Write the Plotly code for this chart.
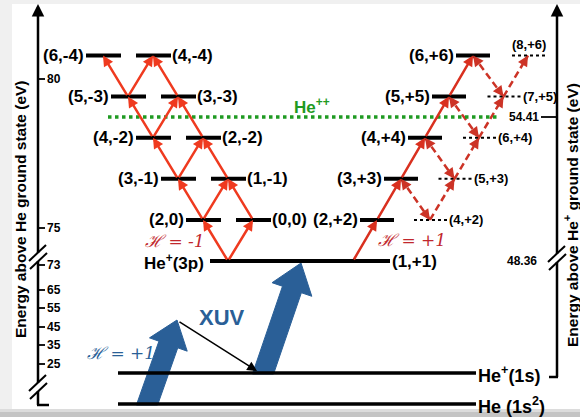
import math
import plotly.graph_objects as go

# ---------------- data (diagram content) ----------------
ladder_rows = [1, 2, 3, 4, 5]
left_outer_labels = ["(2,0)", "(3,-1)", "(4,-2)", "(5,-3)", "(6,-4)"]
left_inner_labels = ["(0,0)", "(1,-1)", "(2,-2)", "(3,-3)", "(4,-4)"]
right_solid_labels = ["(2,+2)", "(3,+3)", "(4,+4)", "(5,+5)", "(6,+6)"]
right_dotted_labels = ["(4,+2)", "(5,+3)", "(6,+4)", "(7,+5)", "(8,+6)"]
left_axis_ticks = ["80", "75", "73", "65", "55", "45", "35", "25"]
right_axis_ticks = ["54.41", "48.36"]
state_3p = "He<sup>+</sup>(3p)"
state_11 = "(1,+1)"
state_1s = "He<sup>+</sup>(1s)"
state_gs = "He (1s<sup>2</sup>)"
state_ion = "He<sup>++</sup>"
helicity_left = "ℋ = -1"
helicity_right = "ℋ = +1"
helicity_xuv = "ℋ = +1"
xuv_label = "XUV"
left_title = "Energy above He ground state (eV)"
right_title = "Energy above He<sup>+</sup> ground state (eV)"

# ---------------- layout geometry ----------------
W, H = 580, 417
ROW0_Y, ROW_DY = 261, 41.1
LX0, LSTEP = 228, 25
RX0, RSTEP = 353, 24
DX1, DSTEP = 430, 24.5
Y_1S, Y_GS = 373, 404
ION_Y = 117
AX_L, AX_R = 38, 557
left_tick_y = [79, 228, 265, 290, 308, 327, 345, 364]
right_tick_y = [ION_Y, ROW0_Y]

FONT = "Liberation Sans, Arial, sans-serif"
RED = "#ef3a1f"
RED_R = "#d9301f"
RED_D = "#cc3326"
DARKRED = "#c1272d"
BLUE = "#2a5f97"
GREEN = "#1f9a22"


def row_y(r):
    return ROW0_Y - ROW_DY * r


shapes, ann = [], []
fig = go.Figure()


def hline(x0, x1, y, w=4, dash=None, color="black"):
    shapes.append(dict(type="line", x0=x0, x1=x1, y0=y, y1=y, layer="above",
                       line=dict(color=color, width=w, dash=dash)))


def seg(x0, y0, x1, y1, w=2, color="black"):
    shapes.append(dict(type="line", x0=x0, x1=x1, y0=y0, y1=y1, layer="above",
                       line=dict(color=color, width=w)))


def label(x, y, s, size=17, color="black", xanchor="center", yanchor="middle",
          weight="bold", style="normal", angle=0, family=FONT):
    ann.append(dict(x=x, y=y, text=s, showarrow=False, xanchor=xanchor,
                    yanchor=yanchor, textangle=angle, borderpad=0,
                    font=dict(family=family, size=size, color=color,
                              weight=weight, style=style)))


def arrow(x0, y0, x1, y1, color, width=2.5, head=2, size=0.85):
    ann.append(dict(x=x1, y=y1, ax=x0, ay=y0, axref="x", ayref="y", text="",
                    showarrow=True, arrowhead=head, arrowsize=size,
                    arrowwidth=width, arrowcolor=color, standoff=0))


def dashed_arrow(x0, y0, x1, y1, color, both=False):
    fig.add_trace(go.Scatter(x=[x0, x1], y=[y0, y1], mode="lines",
                             line=dict(color=color, width=2.5, dash="7px,4px"),
                             hoverinfo="skip", showlegend=False))
    L = math.hypot(x1 - x0, y1 - y0)
    ux, uy = (x1 - x0) / L, (y1 - y0) / L
    arrow(x1 - ux * 9, y1 - uy * 9, x1, y1, color)
    if both:
        arrow(x0 + ux * 9, y0 + uy * 9, x0, y0, color)


def fat_arrow(tx, ty, hx, hy, shaft_hw, head_hw, head_len, color):
    L = math.hypot(hx - tx, hy - ty)
    ux, uy = (hx - tx) / L, (hy - ty) / L
    px, py = -uy, ux
    bx, by = hx - ux * head_len, hy - uy * head_len
    pts = []
    for sgn in (1, -1):
        cx, cy = tx + sgn * px * shaft_hw, ty + sgn * py * shaft_hw
        s = (ty - cy) / uy
        pts.append((cx + s * ux, cy + s * uy))
    poly = [pts[0],
            (bx + px * shaft_hw, by + py * shaft_hw),
            (bx + px * head_hw, by + py * head_hw),
            (hx, hy),
            (bx - px * head_hw, by - py * head_hw),
            (bx - px * shaft_hw, by - py * shaft_hw),
            pts[1], pts[0]]
    fig.add_trace(go.Scatter(x=[p[0] for p in poly], y=[p[1] for p in poly],
                             mode="lines", fill="toself", fillcolor=color,
                             line=dict(color=color, width=1), hoverinfo="skip",
                             showlegend=False))


def axis_break(cx, cy):
    shapes.append(dict(type="rect", x0=cx - 3, x1=cx + 3, y0=cy - 4, y1=cy + 4,
                       fillcolor="white", line=dict(width=0), layer="above"))
    seg(cx - 9, cy + 4, cx + 8, cy - 12, w=2)
    seg(cx - 8, cy + 12, cx + 9, cy - 4, w=2)


# ---------- frame ----------
shapes.append(dict(type="rect", x0=12, x1=W, y0=4, y1=409, fillcolor="white",
                   line=dict(width=0), layer="below"))
shapes.append(dict(type="rect", x0=0, x1=W, y0=409, y1=412, fillcolor="#dcdcdc",
                   line=dict(width=0), layer="below"))
shapes.append(dict(type="rect", x0=0, x1=W, y0=412, y1=H, fillcolor="#c4c4c4",
                   line=dict(width=0), layer="below"))

# ---------- XUV fat arrows ----------
fat_arrow(147, Y_GS + 1, 177, 320, 10, 20, 26, BLUE)
fat_arrow(263, Y_1S + 1, 301, ROW0_Y + 2, 10, 21, 28, BLUE)
arrow(178, 321, 257, 371, "black", width=1.5, head=2, size=1.3)
label(222, 317, xuv_label, size=22, color=BLUE)
label(121, 353, helicity_xuv, size=17, color=BLUE, style="italic",
      weight="normal", family="DejaVu Serif, serif")

# ---------- base levels ----------
hline(118, 476, Y_1S, w=3.5)
hline(118, 476, Y_GS, w=3.5)
label(477, Y_1S + 1, state_1s, size=18, xanchor="left")
label(477, Y_GS + 1, state_gs, size=18, xanchor="left")
hline(210, 390, ROW0_Y, w=4)
label(205, ROW0_Y + 1, state_3p, size=17, xanchor="right")
label(391, ROW0_Y, state_11, size=17, xanchor="left")

# ---------- ionisation threshold ----------
hline(108, 498, ION_Y, w=3.5, dash="dot", color=GREEN)
label(312, 106, state_ion, size=17, color=GREEN)

# ---------- left ladder (H = -1) ----------
prev = [LX0]
prev_y = row_y(0)
for i, r in enumerate(ladder_rows):
    y = row_y(r)
    xo = LX0 - LSTEP * r
    xi = xo + 2 * LSTEP
    hline(xo - 17, xo + 18, y)
    hline(xi - 17, xi + 18, y)
    label(xo - 18, y, left_outer_labels[i], xanchor="right")
    label(xi + 18, y, left_inner_labels[i], xanchor="left")
    cur = [xo, xi]
    for v in prev:
        for t in (v - LSTEP, v + LSTEP):
            if any(abs(t - c) < 1 for c in cur):
                arrow(v, prev_y, t, y, RED)
    prev, prev_y = cur, y
label(175, 241, helicity_left, size=17, color=DARKRED, style="italic",
      weight="normal", family="DejaVu Serif, serif")

# ---------- right ladder (H = +1) ----------
S = {r: RX0 + RSTEP * r for r in [0] + ladder_rows}
D = {r: DX1 + DSTEP * (r - 1) for r in ladder_rows}
for i, r in enumerate(ladder_rows):
    y = row_y(r)
    hline(S[r] - 17, S[r] + 17, y)
    label(S[r] - 18, y, right_solid_labels[i], xanchor="right")
    hline(D[r] - 16, D[r] + 17, y, w=2, dash="dot")
    if i < len(ladder_rows) - 1:
        label(D[r] + 18, y, right_dotted_labels[i], size=13, xanchor="left")
    else:
        label(D[r] + 1, y - 11, right_dotted_labels[i], size=13)
for r in ladder_rows:
    arrow(S[r - 1], row_y(r - 1), S[r], row_y(r), RED_R)
for r in ladder_rows[:-1]:
    dashed_arrow(D[r], row_y(r), D[r + 1], row_y(r + 1), RED_D)
for r in ladder_rows[1:]:
    dashed_arrow(S[r], row_y(r), D[r - 1], row_y(r - 1), RED_D, both=True)
label(412, 240, helicity_right, size=17, color=DARKRED, style="italic",
      weight="normal", family="DejaVu Serif, serif")

# ---------- left axis ----------
seg(AX_L, 405, AX_L, 12, w=2.5)
seg(AX_L - 1, 405, 49, 405, w=2.5)
arrow(AX_L, 18, AX_L, 4, "black", width=2.5, head=2, size=1.0)
for t, y in zip(left_axis_ticks, left_tick_y):
    seg(AX_L, y, AX_L + 7, y, w=1.8)
    label(AX_L + 8, y, t, size=12, xanchor="left")
axis_break(AX_L, 257)
axis_break(AX_L, 387)
label(20, 209, left_title, size=15.5, angle=-90)

# ---------- right axis ----------
seg(AX_R, 377, AX_R, 12, w=2.5)
seg(549, 377, AX_R + 1, 377, w=2.5)
arrow(AX_R, 18, AX_R, 4, "black", width=2.5, head=2, size=1.0)
seg(541, right_tick_y[0], AX_R, right_tick_y[0], w=1.8)
label(540, right_tick_y[0], right_axis_ticks[0], size=12, xanchor="right")
label(538, right_tick_y[1], right_axis_ticks[1], size=12, xanchor="right")
axis_break(AX_R, 258)
label(571, 215, right_title, size=15.5, angle=-90)

fig.update_layout(
    width=W, height=H, margin=dict(l=0, r=0, t=0, b=0),
    paper_bgcolor="#f0f0f0", plot_bgcolor="rgba(0,0,0,0)",
    xaxis=dict(range=[0, W], visible=False, fixedrange=True),
    yaxis=dict(range=[H, 0], visible=False, fixedrange=True),
    shapes=shapes, annotations=ann, showlegend=False,
)
fig.write_html("out.html", config={"displayModeBar": False},
               post_script="document.body.style.margin='0';"
                           "document.body.style.overflow='hidden';")
